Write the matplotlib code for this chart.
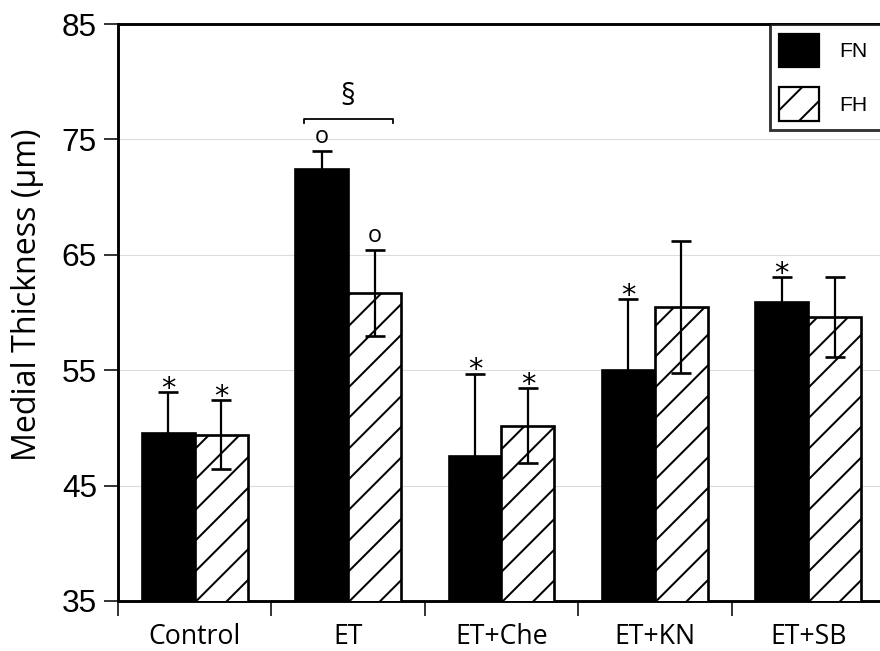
import matplotlib
matplotlib.use("Agg")
import matplotlib.pyplot as plt
from matplotlib.patches import Patch
from matplotlib.ticker import FixedLocator
import numpy as np

# data
groups = ["Control", "ET", "ET+Che", "ET+KN", "ET+SB"]
fn_mean = [49.6, 72.4, 47.6, 55.0, 60.9]
fn_err = [3.5, 1.6, 7.1, 6.15, 2.15]
fh_mean = [49.4, 61.7, 50.2, 60.5, 59.6]
fh_err = [3.0, 3.7, 3.25, 5.7, 3.45]
fn_marks = ["*", "o", "*", "*", "*"]
fh_marks = ["*", "o", "*", "", ""]
yticks = [35, 45, 55, 65, 75, 85]

# dpi chosen so the hatch spacing matches; sizes below are given for 160 dpi
DPI = 184
def pt(v):
    return v * 160 / DPI

plt.rcParams["hatch.linewidth"] = pt(0.9)
plt.rcParams["hatch.color"] = "black"

fig = plt.figure(figsize=(881 / DPI, 651 / DPI), dpi=DPI)
ax = fig.add_axes([118 / 881, 1 - 601 / 651, 767 / 881, 577 / 651])

x = np.arange(len(groups))
w = 0.345

ax.bar(x - w / 2, fn_mean, w, color="black", edgecolor="black", linewidth=pt(1.2), zorder=3)
ax.bar(x + w / 2, fh_mean, w, color="white", edgecolor="black", linewidth=pt(1.2),
       hatch="//", zorder=3)
ax.errorbar(x - w / 2, fn_mean, yerr=fn_err, fmt="none", ecolor="black",
            elinewidth=pt(1.0), capsize=pt(4.7), capthick=pt(1.2), zorder=4)
ax.errorbar(x + w / 2, fh_mean, yerr=fh_err, fmt="none", ecolor="black",
            elinewidth=pt(1.0), capsize=pt(4.7), capthick=pt(1.2), zorder=4)

# significance marks
def mark(xs, means, errs, marks):
    for xi, m, e, mk in zip(xs, means, errs, marks):
        if mk == "*":
            ax.annotate(mk, (xi, m + e), xytext=(0, pt(-2)), textcoords="offset points",
                        ha="center", va="baseline", fontsize=pt(13), family="DejaVu Sans")
        elif mk:
            ax.annotate(mk, (xi, m + e), xytext=(0, pt(3.5)), textcoords="offset points",
                        ha="center", va="baseline", fontsize=pt(10.5), family="Open Sans")

mark(x - w / 2, fn_mean, fn_err, fn_marks)
mark(x + w / 2, fh_mean, fh_err, fh_marks)

# bracket over ET
bx0, bx1, by = 1 - 0.29, 1 + 0.29, 76.8
ax.plot([bx0, bx0, bx1, bx1], [by - 0.4, by, by, by - 0.4], color="black",
        lw=pt(0.8), zorder=4, clip_on=False)
ax.text(1, by + 0.6, "§", ha="center", va="bottom", fontsize=pt(13), family="Open Sans")

ax.set_xlim(-0.5, 4.5)
ax.set_ylim(35, 85)
ax.set_yticks(yticks)
ax.set_yticklabels([str(t) for t in yticks], family="Liberation Sans", fontsize=pt(14.2))
ax.set_xticks(x)
ax.set_xticklabels(groups, family="Open Sans", fontsize=pt(12))
ax.xaxis.set_minor_locator(FixedLocator(np.arange(-0.5, 4.6, 1)))
ax.tick_params(axis="x", which="major", length=0, pad=pt(10))
ax.tick_params(axis="x", which="minor", length=pt(6.8), width=pt(0.7), direction="out")
ax.tick_params(axis="y", length=pt(6.5), width=pt(0.7), direction="out", pad=pt(3))

for t in [45, 55, 65, 75]:
    ax.axhline(t, color="#dcdcdc", lw=pt(0.5), zorder=0)

ax.spines["right"].set_visible(False)
for s in ["left", "top", "bottom"]:
    ax.spines[s].set_linewidth(pt(1.3))

ax.set_ylabel("Medial Thickness (μm)", family="Open Sans", fontsize=pt(14.5))
ax.yaxis.set_label_coords(-0.096, 0.53)

handles = [Patch(facecolor="black", edgecolor="black", linewidth=pt(1.0), label="FN"),
           Patch(facecolor="white", edgecolor="black", linewidth=pt(1.0), hatch="//", label="FH")]
leg = fig.legend(handles=handles, loc="upper left", mode="expand",
                 bbox_to_anchor=(770 / 881, 1 - 124 / 651, 140 / 881, 100 / 651),
                 bbox_transform=fig.transFigure,
                 borderaxespad=0, handlelength=1.85, handleheight=2.08,
                 labelspacing=0.95, handletextpad=1.0, borderpad=0.45,
                 fancybox=False, frameon=True, prop={"family": "Liberation Sans", "size": pt(9.5)})
leg.get_frame().set_edgecolor("black")
leg.get_frame().set_linewidth(pt(1.3))

fig.savefig("out.png", dpi=DPI)
